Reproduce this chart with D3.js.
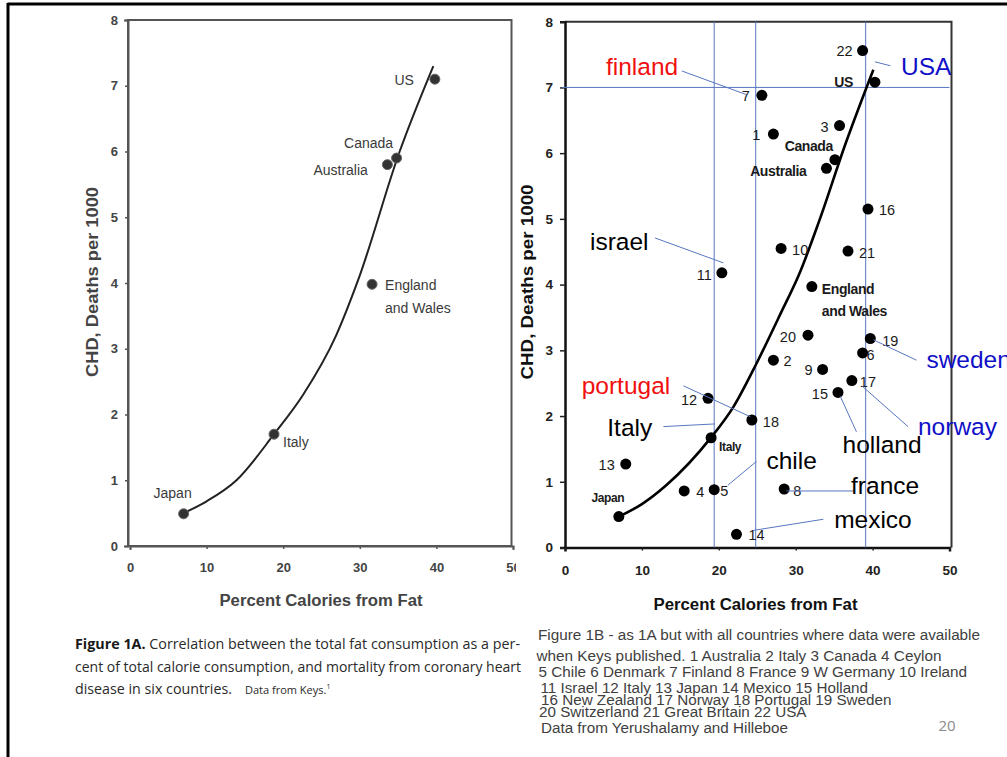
<!DOCTYPE html>
<html>
<head>
<meta charset="utf-8">
<script src="https://cdn.jsdelivr.net/npm/d3@7"></script>
<style>
  body { margin: 0; background: #fff; }
  svg { display: block; }
</style>
</head>
<body>
<svg id="slide" width="1007" height="757"></svg>
<script>
// ---- Figure 1A: six countries (Keys) ----
const keysCountries = ["Japan", "Italy", "England and Wales", "Australia", "Canada", "US"];
const keysFat = [7.0, 18.8, 31.6, 33.6, 34.8, 39.8];
const keysCHD = [0.49, 1.70, 3.98, 5.80, 5.90, 7.10];
// hand-drawn trend curve of Figure 1A
const keysCurveFat = [7, 10, 13.9, 18.8, 22.6, 26.9, 29.8, 35.2, 39.6];
const keysCurveCHD = [0.5, 0.68, 1.0, 1.7, 2.3, 3.2, 4.05, 6.0, 7.3];

// ---- Figure 1B: 22 countries (Yerushalamy and Hilleboe) ----
const yhIds = ["1", "2", "3", "4", "5", "6", "7", "8", "9", "10", "11",
               "12", "13", "14", "15", "16", "17", "18", "19", "20", "21", "22"];
const yhFat = [27.1, 27.1, 35.7, 15.5, 19.4, 38.7, 25.6, 28.5, 33.5, 28.1, 20.4,
               18.6, 7.9, 22.3, 35.5, 39.4, 37.3, 24.3, 39.7, 31.6, 36.8, 38.7];
const yhCHD = [6.29, 2.85, 6.42, 0.86, 0.88, 2.96, 6.88, 0.89, 2.71, 4.55, 4.18,
               2.27, 1.27, 0.20, 2.36, 5.15, 2.54, 1.94, 3.18, 3.23, 4.51, 7.56];
// the six Keys countries as replotted in 1B
const keysInBNames = ["Japan", "Italy", "England and Wales", "Australia", "Canada", "US"];
const keysInBFat = [7.0, 19.0, 32.1, 34.0, 35.1, 40.3];
const keysInBCHD = [0.47, 1.67, 3.97, 5.77, 5.90, 7.08];
// trend curve copied into 1B
const bCurveFat = [7, 10, 13.2, 18.9, 21.9, 24.9, 28.0, 30.6, 33.0, 36.5, 40.1];
const bCurveCHD = [0.47, 0.66, 0.95, 1.66, 2.14, 2.80, 3.55, 4.2, 4.95, 6.15, 7.27];
// reference lines drawn over 1B
const refFat = [19.4, 24.8, 39.1];
const refCHD = [7.0];

// ---- axis ticks ----
const xTicks = [0, 10, 20, 30, 40, 50];
const yTicks = [0, 1, 2, 3, 4, 5, 6, 7, 8];

// ---- annotation names over 1B ----
const noteNames = ["finland", "USA", "israel", "portugal", "Italy", "chile",
                   "france", "mexico", "holland", "norway", "sweden"];

// ---------------------------------------------------------------------------
const svg = d3.select("#slide");
const FONT = "'Liberation Sans', Arial, Helvetica, sans-serif";

// slide border
svg.append("line").attr("x1", 7.5).attr("x2", 1007).attr("y1", 4).attr("y2", 4)
  .attr("stroke", "#000").attr("stroke-width", 3);
svg.append("line").attr("x1", 8).attr("x2", 8).attr("y1", 3).attr("y2", 757)
  .attr("stroke", "#000").attr("stroke-width", 3);

// ===== Figure 1A =====
const xA = d3.scaleLinear().domain([0, 50]).range([130, 513]);
const yA = d3.scaleLinear().domain([0, 8]).range([546, 20]);

svg.append("defs").append("clipPath").attr("id", "clipA")
  .append("rect").attr("x", 0).attr("y", 0).attr("width", 516).attr("height", 757);

const gA = svg.append("g").attr("clip-path", "url(#clipA)");

// frame
gA.append("rect")
  .attr("x", xA(0) - 2).attr("y", yA(8))
  .attr("width", xA(50) - xA(0) + 0.5).attr("height", yA(0) - yA(8))
  .attr("fill", "none").attr("stroke", "#555").attr("stroke-width", 2);

const axA_y = gA.append("g").attr("transform", `translate(${xA(0) - 2},0)`)
  .call(d3.axisLeft(yA).tickValues(yTicks).tickSize(4).tickPadding(6).tickFormat(d3.format("d")));
const axA_x = gA.append("g").attr("transform", `translate(0,${yA(0)})`)
  .call(d3.axisBottom(xA).tickValues(xTicks).tickSize(4).tickPadding(13).tickFormat(d3.format("d")));
[axA_y, axA_x].forEach(ax => {
  ax.select(".domain").attr("stroke", "#555").attr("stroke-width", 2);
  ax.selectAll(".tick line").attr("stroke", "#555").attr("stroke-width", 1.5);
  ax.selectAll(".tick text").attr("font-family", FONT).attr("font-size", 13)
    .attr("font-weight", "bold").attr("fill", "#444");
});
axA_y.selectAll(".tick line").attr("x2", -3);
axA_x.selectAll(".tick line").attr("y2", 3);

// curve
const lineA = d3.line().x(d => xA(d[0])).y(d => yA(d[1])).curve(d3.curveMonotoneX);
gA.append("path")
  .datum(keysCurveFat.map((f, i) => [f, keysCurveCHD[i]]))
  .attr("d", lineA).attr("fill", "none").attr("stroke", "#222").attr("stroke-width", 2);

// points
gA.selectAll("circle.k").data(keysFat.map((f, i) => i)).join("circle")
  .attr("cx", i => xA(keysFat[i])).attr("cy", i => yA(keysCHD[i])).attr("r", 5)
  .attr("fill", "#333").attr("stroke", "#666").attr("stroke-width", 1);

// point labels (pixel offsets from the dot)
const labelA = {
  "Japan":  { dx: -11, dy: -20.5, anchor: "middle" },
  "Italy":  { dx: 9,   dy: 8,     anchor: "start" },
  "England and Wales": { dx: 13, dy: 1, anchor: "start", second: 22.5 },
  "Australia": { dx: -19.5, dy: 5,  anchor: "end" },
  "Canada": { dx: -3.5, dy: -15,  anchor: "end" },
  "US":     { dx: -21,  dy: 1,    anchor: "end" }
};
keysCountries.forEach((name, i) => {
  const L = labelA[name];
  const words = L.second ? ["England", "and Wales"] : [name];
  words.forEach((w, k) => {
    gA.append("text")
      .attr("x", xA(keysFat[i]) + L.dx)
      .attr("y", yA(keysCHD[i]) + L.dy + (k ? L.second : 0))
      .attr("dy", "0.35em").attr("text-anchor", L.anchor)
      .attr("font-family", FONT).attr("font-size", 14).attr("fill", "#3a3a3a")
      .text(w);
  });
});

// axis titles
gA.append("text")
  .attr("transform", "translate(92,282) rotate(-90)")
  .attr("text-anchor", "middle").attr("dy", "0.35em")
  .attr("font-family", FONT).attr("font-size", 17).attr("font-weight", "bold").attr("fill", "#444")
  .attr("textLength", 190).attr("lengthAdjust", "spacingAndGlyphs")
  .text("CHD, Deaths per 1000");
gA.append("text")
  .attr("x", 321).attr("y", 606).attr("text-anchor", "middle")
  .attr("font-family", FONT).attr("font-size", 16).attr("font-weight", "bold").attr("fill", "#444")
  .attr("textLength", 203).attr("lengthAdjust", "spacingAndGlyphs")
  .text("Percent Calories from Fat");

// caption 1A
const CAP = "'Open Sans', 'Noto Sans', sans-serif";
const c1 = svg.append("text").attr("x", 75).attr("y", 649)
  .attr("font-family", CAP).attr("font-size", 15).attr("fill", "#2a2a2a")
  .attr("textLength", 445).attr("lengthAdjust", "spacingAndGlyphs");
c1.append("tspan").attr("font-weight", "bold").attr("fill", "#1a1a1a").text("Figure 1A.");
c1.append("tspan").text(" Correlation between the total fat consumption as a per-");
svg.append("text").attr("x", 75).attr("y", 672)
  .attr("font-family", CAP).attr("font-size", 15).attr("fill", "#2a2a2a")
  .attr("textLength", 446).attr("lengthAdjust", "spacingAndGlyphs")
  .text("cent of total calorie consumption, and mortality from coronary heart");
svg.append("text").attr("x", 75).attr("y", 694)
  .attr("font-family", CAP).attr("font-size", 15).attr("fill", "#2a2a2a")
  .attr("textLength", 157).attr("lengthAdjust", "spacingAndGlyphs")
  .text("disease in six countries.");
const c3 = svg.append("text").attr("x", 245).attr("y", 694)
  .attr("font-family", CAP).attr("font-size", 11).attr("fill", "#2a2a2a");
c3.append("tspan").text("Data from Keys.");
c3.append("tspan").attr("font-size", 7).attr("dy", -5).text("1");

// ===== Figure 1B =====
const xB = d3.scaleLinear().domain([0, 50]).range([565, 949.5]);
const yB = d3.scaleLinear().domain([0, 8]).range([547.5, 21.7]);
const gB = svg.append("g");

// frame (top and right)
gB.append("path")
  .attr("d", `M${xB(0)},${yB(8)}H${xB(50) + 2}V${yB(0)}`)
  .attr("fill", "none").attr("stroke", "#333").attr("stroke-width", 2);

const axB_y = gB.append("g").attr("transform", `translate(${xB(0)},0)`)
  .call(d3.axisLeft(yB).tickValues(yTicks).tickSize(5).tickPadding(7).tickFormat(d3.format("d")));
const axB_x = gB.append("g").attr("transform", `translate(0,${yB(0)})`)
  .call(d3.axisBottom(xB).tickValues(xTicks).tickSize(4).tickPadding(14).tickFormat(d3.format("d")));
[axB_y, axB_x].forEach(ax => {
  ax.select(".domain").attr("stroke", "#111").attr("stroke-width", 2.5);
  ax.selectAll(".tick line").attr("stroke", "#222").attr("stroke-width", 1.5);
  ax.selectAll(".tick text").attr("font-family", FONT).attr("font-size", 13.5)
    .attr("font-weight", "bold").attr("fill", "#222");
});
axB_x.selectAll(".tick line").attr("y2", 3);

// reference lines
const REF = "#5876c0";
gB.selectAll("line.vref").data(refFat).join("line")
  .attr("x1", d => xB(d)).attr("x2", d => xB(d))
  .attr("y1", yB(8)).attr("y2", yB(0))
  .attr("stroke", REF).attr("stroke-width", 1);
gB.selectAll("line.href").data(refCHD).join("line")
  .attr("x1", xB(0) - 3).attr("x2", xB(50))
  .attr("y1", d => yB(d)).attr("y2", d => yB(d))
  .attr("stroke", REF).attr("stroke-width", 1);

// curve
const lineB = d3.line().x(d => xB(d[0])).y(d => yB(d[1])).curve(d3.curveMonotoneX);
gB.append("path")
  .datum(bCurveFat.map((f, i) => [f, bCurveCHD[i]]))
  .attr("d", lineB).attr("fill", "none").attr("stroke", "#000").attr("stroke-width", 2.6);

// points: numbered countries and the Keys six
gB.selectAll("circle.yh").data(yhIds.map((d, i) => i)).join("circle")
  .attr("cx", i => xB(yhFat[i])).attr("cy", i => yB(yhCHD[i])).attr("r", 5.5)
  .attr("fill", "#000");
gB.selectAll("circle.kb").data(keysInBNames.map((d, i) => i)).join("circle")
  .attr("cx", i => xB(keysInBFat[i])).attr("cy", i => yB(keysInBCHD[i])).attr("r", 5.5)
  .attr("fill", "#000");

// label offsets (pixels from dot centre)
const labelB = {
  "1": [-13, 1, "end"], "2": [10, 1, "start"], "3": [-11, 1, "end"], "4": [12, 1, "start"],
  "5": [6, 1, "start"], "6": [4, 2, "start"], "7": [-12, 1, "end"], "8": [9, 2, "start"],
  "9": [-10, 1, "end"], "10": [11, 1, "start"], "11": [-10, 2, "end"], "12": [-11, 2, "end"],
  "13": [-11, 1, "end"], "14": [12, 1, "start"], "15": [-10, 2, "end"], "16": [11, 1, "start"],
  "17": [8, 1, "start"], "18": [11, 2, "start"], "19": [12, 2, "start"], "20": [-12, 2, "end"],
  "21": [11, 2, "start"], "22": [-10, 0, "end"]
};
yhIds.forEach((id, i) => {
  const [dx, dy, anchor] = labelB[id];
  gB.append("text")
    .attr("x", xB(yhFat[i]) + dx).attr("y", yB(yhCHD[i]) + dy).attr("dy", "0.35em")
    .attr("text-anchor", anchor)
    .attr("font-family", FONT).attr("font-size", 14.5).attr("fill", "#1a1a1a")
    .text(id);
});
const labelKB = {
  "Japan": [-11, -19, "middle"], "Italy": [8, 9, "start"],
  "England and Wales": [10, 3, "start"], "Australia": [-20, 3, "end"],
  "Canada": [-2, -14, "end"], "US": [-22, 0, "end"]
};
keysInBNames.forEach((name, i) => {
  const [dx, dy, anchor] = labelKB[name];
  const small = name === "Italy" || name === "Japan";
  const words = name === "England and Wales" ? ["England", "and Wales"] : [name];
  words.forEach((w, k) => {
    gB.append("text")
      .attr("x", xB(keysInBFat[i]) + dx).attr("y", yB(keysInBCHD[i]) + dy + k * 22)
      .attr("dy", "0.35em").attr("text-anchor", anchor)
      .attr("font-family", FONT).attr("font-size", small ? 12 : 14)
      .attr("font-weight", "bold").attr("fill", "#1a1a1a")
      .attr("letter-spacing", -0.4)
      .text(w);
  });
});

// axis titles
gB.append("text")
  .attr("transform", "translate(527,282) rotate(-90)")
  .attr("text-anchor", "middle").attr("dy", "0.35em")
  .attr("font-family", FONT).attr("font-size", 17).attr("font-weight", "bold").attr("fill", "#111")
  .attr("textLength", 195).attr("lengthAdjust", "spacingAndGlyphs")
  .text("CHD, Deaths per 1000");
gB.append("text")
  .attr("x", 755.5).attr("y", 610).attr("text-anchor", "middle")
  .attr("font-family", FONT).attr("font-size", 16).attr("font-weight", "bold").attr("fill", "#111")
  .attr("textLength", 204).attr("lengthAdjust", "spacingAndGlyphs")
  .text("Percent Calories from Fat");

// annotations: text position and leader line, in data units
const RED = "#f01010", BLUE = "#1010c8", BLACK = "#000";
const noteLayout = {
  "finland":  { color: RED,   at: [5.33, 7.19], from: [15.2, 7.25], to: [23.6, 6.89] },
  "USA":      { color: BLUE,  at: [43.7, 7.19], from: [40.3, 7.39], to: [42.3, 7.33] },
  "israel":   { color: BLACK, at: [3.25, 4.53], from: [11.7, 4.71], to: [20.6, 4.33] },
  "portugal": { color: RED,   at: [2.17, 2.34], from: [15.4, 2.46], to: [24.1, 1.99] },
  "Italy":    { color: BLACK, at: [5.5, 1.69],  from: [12.8, 1.84], to: [19.5, 1.88] },
  "chile":    { color: BLACK, at: [26.2, 1.19], from: [24.9, 1.31], to: [21.2, 0.95] },
  "france":   { color: BLACK, at: [37.2, 0.81], from: [28.8, 0.86], to: [37.5, 0.86] },
  "mexico":   { color: BLACK, at: [35.0, 0.29], from: [33.6, 0.43], to: [24.5, 0.26] },
  "holland":  { color: BLACK, at: [36.1, 1.44], from: [35.8, 2.30], to: [37.9, 1.76] },
  "norway":   { color: BLUE,  at: [45.9, 1.71], from: [38.6, 2.46], to: [44.6, 1.84] },
  "sweden":   { color: BLUE,  at: [47.0, 2.73], from: [40.1, 3.16], to: [45.7, 2.85] }
};
noteNames.forEach(name => {
  const n = noteLayout[name];
  gB.append("line")
    .attr("x1", xB(n.from[0])).attr("y1", yB(n.from[1]))
    .attr("x2", xB(n.to[0])).attr("y2", yB(n.to[1]))
    .attr("stroke", REF).attr("stroke-width", 1);
});
noteNames.forEach(name => {
  const n = noteLayout[name];
  gB.append("text")
    .attr("x", xB(n.at[0])).attr("y", yB(n.at[1]))
    .attr("font-family", FONT).attr("font-size", 24.5).attr("fill", n.color)
    .text(name);
});

// caption 1B
const capB = [
  ["Figure 1B - as 1A but with all countries where data were available", 538, 640, 442],
  ["when Keys published. 1 Australia 2 Italy 3 Canada 4 Ceylon", 536.5, 660.5, 405],
  ["5 Chile 6 Denmark 7 Finland 8 France 9 W Germany 10 Ireland", 538.5, 676.5, 428.5],
  ["11 Israel 12 Italy 13 Japan 14 Mexico 15 Holland", 540.5, 692.5, 327.5],
  ["16 New Zealand 17 Norway 18 Portugal 19 Sweden", 541, 705, 350.5],
  ["20 Switzerland 21 Great Britain 22 USA", 539, 716.5, 267.5],
  ["Data from Yerushalamy and Hilleboe", 541, 733, 247]
];
svg.selectAll("text.capb").data(capB).join("text")
  .attr("x", d => d[1]).attr("y", d => d[2])
  .attr("textLength", d => d[3]).attr("lengthAdjust", "spacingAndGlyphs")
  .attr("font-family", FONT).attr("font-size", 14).attr("fill", "#404040")
  .text(d => d[0]);

// page number
svg.append("text").attr("x", 947).attr("y", 731).attr("text-anchor", "middle")
  .attr("font-family", CAP).attr("font-size", 15).attr("fill", "#8a8a8a")
  .text("20");
</script>
</body>
</html>
